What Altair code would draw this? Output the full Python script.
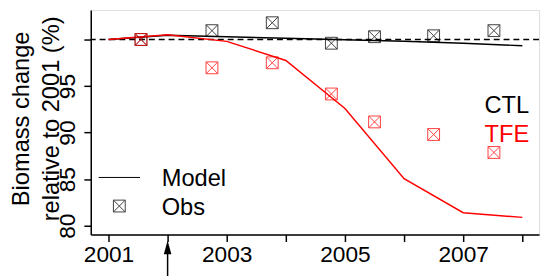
import altair as alt
import pandas as pd

years = [2001, 2002, 2003, 2004, 2005, 2006, 2007, 2008]
ctl_model = [100.0, 100.45, 100.3, 100.14, 99.97, 99.8, 99.6, 99.33]
tfe_model = [100.0, 100.5, 99.8, 97.75, 92.6, 85.05, 81.4, 80.9]

obs_years = [2001.55, 2002.75, 2003.77, 2004.77, 2005.5, 2006.5, 2007.52]
ctl_obs = [100.0, 100.95, 101.8, 99.6, 100.3, 100.4, 100.95]
tfe_obs = [100.0, 96.96, 97.5, 94.15, 91.15, 89.8, 87.87]

series = ["CTL", "TFE"]
colors = ["#000000", "#ff0000"]
y_ticks = [80, 85, 90, 95, 100]

FONT = "Liberation Sans"
FS = 23
FT = 24

model = pd.DataFrame({
    "year": years * 2,
    "value": ctl_model + tfe_model,
    "series": ["CTL"] * len(years) + ["TFE"] * len(years),
})
obs = pd.DataFrame({
    "year": obs_years * 2,
    "value": ctl_obs + tfe_obs,
    "series": ["CTL"] * len(obs_years) + ["TFE"] * len(obs_years),
})

xscale = alt.Scale(domain=[2000.7, 2008.283], nice=False, zero=False)
yscale = alt.Scale(domain=[79.05, 103.17], nice=False, zero=False)
cscale = alt.Scale(domain=series, range=colors)

BOXX = "M-1,-1L1,-1L1,1L-1,1Z M-1,-1L1,1 M1,-1L-1,1"

x_axis = alt.Axis(values=years, format="d",
                  labelExpr="datum.value % 2 == 1 ? datum.label : ''",
                  title=None, tickSize=7, labelFontSize=FS, labelPadding=2,
                  grid=False, domainColor="black", tickColor="black",
                  labelColor="black", domainWidth=1.5, tickWidth=1.5)
y_axis = alt.Axis(values=y_ticks,
                  labelExpr="datum.value == 100 ? '' : datum.label",
                  labelAngle=270, labelFontSize=FS, labelPadding=4,
                  tickSize=7, grid=False, domainColor="black", tickColor="black",
                  labelColor="black", domainWidth=1.5, tickWidth=1.5,
                  title=["Biomass change", "relative to 2001 (%)"],
                  titleFontSize=FT, titleFontWeight="normal", titleColor="black",
                  titleAngle=270, titleX=-70, titleY=110, titleAlign="center",
                  titleBaseline="middle", titleLineHeight=30)

base_x = alt.X("year:Q", scale=xscale, axis=x_axis)
base_y = alt.Y("value:Q", scale=yscale, axis=y_axis)

ref = alt.Chart(pd.DataFrame({"v": [100]})).mark_rule(
    color="black", strokeDash=[6, 4], strokeWidth=1.3
).encode(y=alt.Y("v:Q", scale=yscale))

lines = alt.Chart(model).mark_line(strokeWidth=1.5).encode(
    x=base_x, y=base_y,
    color=alt.Color("series:N", scale=cscale, legend=None),
)

points = alt.Chart(obs).mark_point(
    shape=BOXX, size=144, filled=False, strokeWidth=1, opacity=0.75
).encode(
    x=alt.X("year:Q", scale=xscale),
    y=alt.Y("value:Q", scale=yscale),
    color=alt.Color("series:N", scale=cscale, legend=None),
)

one = pd.DataFrame({"a": [0]})

# series labels
lab_ctl = alt.Chart(one).mark_text(
    text="CTL", font=FONT, fontSize=FT, align="right", baseline="alphabetic",
    color="black"
).encode(x=alt.value(445), y=alt.value(105))
lab_tfe = alt.Chart(one).mark_text(
    text="TFE", font=FONT, fontSize=FT, align="right", baseline="alphabetic",
    color="red"
).encode(x=alt.value(445), y=alt.value(134))

# legend
leg_line = alt.Chart(one).mark_rule(color="black", strokeWidth=1).encode(
    x=alt.value(8), x2=alt.value(50), y=alt.value(170))
leg_pt = alt.Chart(one).mark_point(
    shape=BOXX, size=144, filled=False, strokeWidth=1, color="black", opacity=0.75
).encode(x=alt.value(29), y=alt.value(199))
leg_t1 = alt.Chart(one).mark_text(
    text="Model", font=FONT, fontSize=FT, align="left", baseline="alphabetic",
    color="black").encode(x=alt.value(72), y=alt.value(179))
leg_t2 = alt.Chart(one).mark_text(
    text="Obs", font=FONT, fontSize=FT, align="left", baseline="alphabetic",
    color="black").encode(x=alt.value(72), y=alt.value(208))

# arrow marking 2002 (start of treatment)
arrow_line = alt.Chart(one).mark_rule(color="black", strokeWidth=1.5).encode(
    x=alt.value(78), y=alt.value(242), y2=alt.value(280))
arrow_head = alt.Chart(one).mark_point(
    shape="M0,-1L0.55,1L-0.55,1Z", size=196, filled=True, color="black",
    opacity=1
).encode(x=alt.value(78), y=alt.value(241))

chart = alt.layer(
    ref, lines, points, lab_ctl, lab_tfe,
    leg_line, leg_pt, leg_t1, leg_t2, arrow_line, arrow_head
).properties(
    width=455, height=228,
    autosize=alt.AutoSizeParams(type="none"),
    padding={"left": 84, "top": 0, "right": 3, "bottom": 40},
    background="white",
).configure_view(
    stroke="black", strokeWidth=1.5
).configure(font=FONT)

chart.save("out.html", embed_options={"renderer": "svg", "actions": False})
